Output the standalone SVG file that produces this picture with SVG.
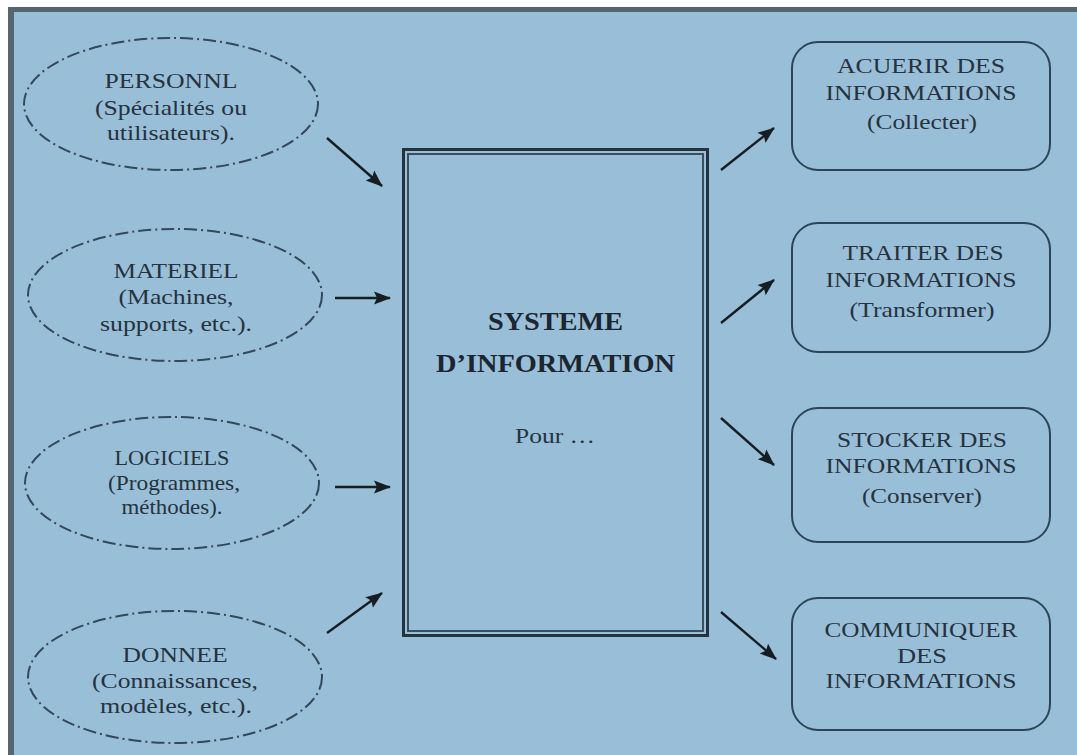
<svg xmlns="http://www.w3.org/2000/svg" width="1077" height="755" viewBox="0 0 1077 755">
  <defs>
    <style>
      .t { font-family: "Liberation Serif", "Times New Roman", serif; font-size: 22px; fill: #26323d; text-anchor: middle; }
      .tb { font-family: "Liberation Serif", "Times New Roman", serif; font-size: 25px; font-weight: bold; fill: #1c2630; text-anchor: middle; }
      .res { fill: none; stroke: #33485a; stroke-width: 2; stroke-dasharray: 13 4 2 4; }
      .act { fill: none; stroke: #2c4558; stroke-width: 2; }
      .arr { stroke: #161d23; stroke-width: 2.4; fill: none; marker-end: url(#head); }
    </style>
    <marker id="head" markerUnits="userSpaceOnUse" markerWidth="18" markerHeight="16" refX="16" refY="8" orient="auto">
      <path d="M0,1.5 L17,8 L0,14.5 L3,8 Z" fill="#161d23"/>
    </marker>
  </defs>

  <!-- page background and frame -->
  <rect x="0" y="0" width="1077" height="755" fill="#ffffff"/>
  <rect x="8" y="7" width="1069" height="748" fill="#99bfd8"/>
  <rect x="8" y="7" width="1069" height="5" fill="#56666f"/>
  <rect x="8" y="7" width="6" height="748" fill="#56666f"/>

  <!-- resources (inputs) -->
  <g id="personnel">
    <ellipse class="res" cx="171" cy="104" rx="147" ry="66"/>
    <text class="t" x="171" y="88" textLength="133" lengthAdjust="spacingAndGlyphs">PERSONNL</text>
    <text class="t" x="171" y="115" textLength="152" lengthAdjust="spacingAndGlyphs">(Spécialités ou</text>
    <text class="t" x="171" y="140" textLength="128" lengthAdjust="spacingAndGlyphs">utilisateurs).</text>
  </g>
  <g id="materiel">
    <ellipse class="res" cx="175" cy="295" rx="147" ry="66"/>
    <text class="t" x="176" y="278" textLength="125" lengthAdjust="spacingAndGlyphs">MATERIEL</text>
    <text class="t" x="176" y="304" textLength="115" lengthAdjust="spacingAndGlyphs">(Machines,</text>
    <text class="t" x="176" y="331" textLength="152" lengthAdjust="spacingAndGlyphs">supports, etc.).</text>
  </g>
  <g id="logiciels">
    <ellipse class="res" cx="172" cy="483" rx="147" ry="66"/>
    <text class="t" x="172" y="465" textLength="115" lengthAdjust="spacingAndGlyphs">LOGICIELS</text>
    <text class="t" x="174" y="490" textLength="132" lengthAdjust="spacingAndGlyphs">(Programmes,</text>
    <text class="t" x="172" y="514" textLength="101" lengthAdjust="spacingAndGlyphs">méthodes).</text>
  </g>
  <g id="donnee">
    <ellipse class="res" cx="175" cy="677" rx="147" ry="66"/>
    <text class="t" x="175" y="662" textLength="105" lengthAdjust="spacingAndGlyphs">DONNEE</text>
    <text class="t" x="175" y="688" textLength="166" lengthAdjust="spacingAndGlyphs">(Connaissances,</text>
    <text class="t" x="176" y="713" textLength="152" lengthAdjust="spacingAndGlyphs">modèles, etc.).</text>
  </g>

  <!-- central system -->
  <g id="systeme">
    <rect x="403.5" y="149.5" width="304" height="486" fill="none" stroke="#25333f" stroke-width="3"/>
    <rect x="408" y="154" width="295" height="477" fill="none" stroke="#3b4f5f" stroke-width="2"/>
    <text class="tb" x="555.5" y="330" textLength="135" lengthAdjust="spacingAndGlyphs">SYSTEME</text>
    <text class="tb" x="555.5" y="372" textLength="239" lengthAdjust="spacingAndGlyphs">D’INFORMATION</text>
    <text class="t" x="555" y="443" textLength="80" lengthAdjust="spacingAndGlyphs">Pour …</text>
  </g>

  <!-- activities (outputs) -->
  <g id="acquerir">
    <rect class="act" x="792" y="42" width="258" height="128" rx="26"/>
    <text class="t" x="921" y="73" textLength="168" lengthAdjust="spacingAndGlyphs">ACUERIR DES</text>
    <text class="t" x="921" y="100" textLength="191" lengthAdjust="spacingAndGlyphs">INFORMATIONS</text>
    <text class="t" x="922" y="129" textLength="110" lengthAdjust="spacingAndGlyphs">(Collecter)</text>
  </g>
  <g id="traiter">
    <rect class="act" x="792" y="223" width="258" height="129" rx="26"/>
    <text class="t" x="923" y="260" textLength="161" lengthAdjust="spacingAndGlyphs">TRAITER DES</text>
    <text class="t" x="921" y="287" textLength="191" lengthAdjust="spacingAndGlyphs">INFORMATIONS</text>
    <text class="t" x="922" y="317" textLength="145" lengthAdjust="spacingAndGlyphs">(Transformer)</text>
  </g>
  <g id="stocker">
    <rect class="act" x="792" y="408" width="258" height="134" rx="26"/>
    <text class="t" x="922" y="447" textLength="170" lengthAdjust="spacingAndGlyphs">STOCKER DES</text>
    <text class="t" x="921" y="473" textLength="191" lengthAdjust="spacingAndGlyphs">INFORMATIONS</text>
    <text class="t" x="922" y="503" textLength="120" lengthAdjust="spacingAndGlyphs">(Conserver)</text>
  </g>
  <g id="communiquer">
    <rect class="act" x="792" y="598" width="258" height="132" rx="26"/>
    <text class="t" x="921" y="637" textLength="193" lengthAdjust="spacingAndGlyphs">COMMUNIQUER</text>
    <text class="t" x="922" y="663" textLength="50" lengthAdjust="spacingAndGlyphs">DES</text>
    <text class="t" x="921" y="688" textLength="191" lengthAdjust="spacingAndGlyphs">INFORMATIONS</text>
  </g>

  <!-- connectors -->
  <g id="connectors">
    <line class="arr" x1="327" y1="138" x2="382" y2="186"/>
    <line class="arr" x1="335" y1="298" x2="390" y2="298"/>
    <line class="arr" x1="335" y1="487" x2="390" y2="487"/>
    <line class="arr" x1="327" y1="633" x2="382" y2="593"/>
    <line class="arr" x1="721" y1="170" x2="774" y2="128"/>
    <line class="arr" x1="721" y1="323" x2="774" y2="280"/>
    <line class="arr" x1="721" y1="418" x2="774" y2="465"/>
    <line class="arr" x1="721" y1="612" x2="776" y2="659"/>
  </g>
</svg>
